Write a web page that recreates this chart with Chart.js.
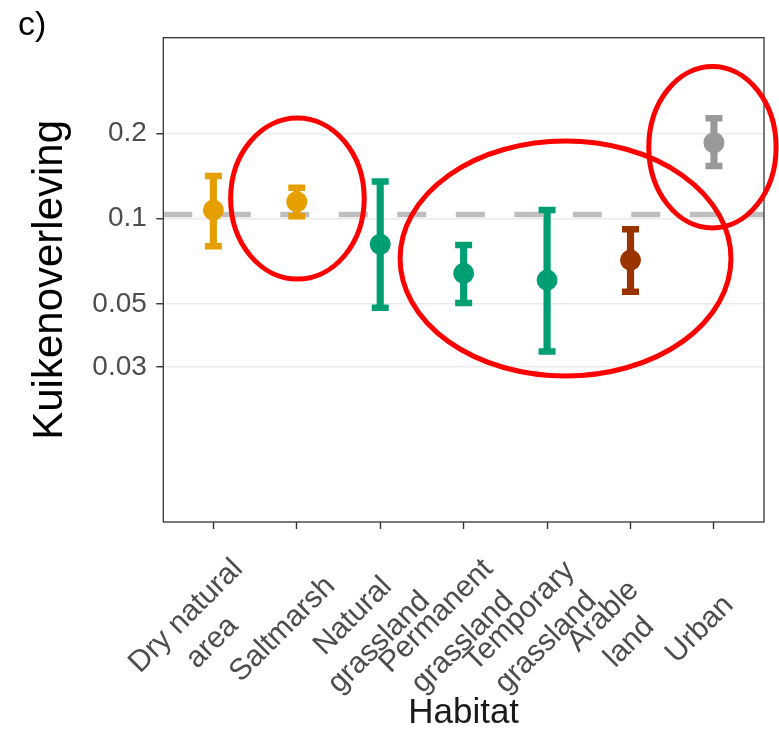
<!DOCTYPE html>
<html>
<head>
<meta charset="utf-8">
<script src="https://cdn.jsdelivr.net/npm/chart.js@4.4.1/dist/chart.umd.min.js"></script>
<style>
html,body{margin:0;padding:0;background:#ffffff;}
#wrap{width:779px;height:734px;}
</style>
</head>
<body>
<div id="wrap"><canvas id="c" width="779" height="734"></canvas></div>
<script>
// ---- data ----
const CATEGORIES = [['Dry natural','area'],['Saltmarsh'],['Natural','grassland'],['Permanent','grassland'],['Temporary','grassland'],['Arable','land'],['Urban']];
const ESTIMATE = [0.1072,0.1147,0.0812,0.0641,0.0607,0.0714,0.1852];
const LOWER    = [0.0799,0.1020,0.0485,0.0504,0.0340,0.0552,0.1533];
const UPPER    = [0.1413,0.1284,0.1352,0.0807,0.1072,0.0917,0.2259];
const COLORS   = ['#E69F00','#E69F00','#009E73','#009E73','#009E73','#993300','#999999'];
const MEAN_SURVIVAL = 0.1035;
const Y_TICKS = [0.03,0.05,0.1,0.2];
const Y_MIN = 0.00851, Y_MAX = 0.4346;
const X_MIN = -0.6, X_MAX = 6.6;
// highlight ellipses, bounding boxes in data space (category index, survival)
const HIGHLIGHTS = [
  {x0:0.207, x1:1.808, y0:0.0612, y1:0.2264},
  {x0:2.238, x1:6.204, y0:0.02785, y1:0.1878},
  {x0:5.219, x1:6.745, y0:0.0927, y1:0.344}
];

const FAMILY = '"Liberation Sans", Arial, Helvetica, sans-serif';
Chart.defaults.font.family = FAMILY;
const IDX = CATEGORIES.map((_, i) => i);

const decor = {
  id: 'decor',
  afterDraw(chart) {
    const {ctx, chartArea: a, scales: {x, y}} = chart;
    ctx.save();
    // panel border
    ctx.strokeStyle = '#333333';
    ctx.lineWidth = 1.3;
    ctx.strokeRect(a.left, a.top, a.right - a.left, a.bottom - a.top);
    // rotated category labels (lines centred)
    ctx.fillStyle = '#4d4d4d';
    ctx.font = '30px ' + FAMILY;
    ctx.textAlign = 'center';
    ctx.textBaseline = 'middle';
    const lh = 37, base = x.top + 7, u = -81, vc = 61;
    CATEGORIES.forEach((lines, i) => {
      const px = x.getPixelForValue(i);
      const v0 = vc - (lines.length - 1) * lh / 2;
      lines.forEach((t, j) => {
        const v = v0 + j * lh;
        const cx = px + Math.SQRT1_2 * (u + v);
        const cy = base + Math.SQRT1_2 * (v - u);
        ctx.save();
        ctx.translate(cx, cy);
        ctx.rotate(-Math.PI / 4);
        ctx.fillText(t, 0, 0);
        ctx.restore();
      });
    });
    // panel tag
    ctx.fillStyle = '#000000';
    ctx.font = '34px ' + FAMILY;
    ctx.textAlign = 'left';
    ctx.textBaseline = 'alphabetic';
    ctx.fillText('c)', 18, 35);
    // red highlight ellipses
    ctx.strokeStyle = '#FF0000';
    ctx.lineWidth = 5;
    HIGHLIGHTS.forEach(h => {
      const l = x.getPixelForValue(h.x0), r = x.getPixelForValue(h.x1);
      const t = y.getPixelForValue(h.y1), b = y.getPixelForValue(h.y0);
      ctx.beginPath();
      ctx.ellipse((l + r) / 2, (t + b) / 2, (r - l) / 2, (b - t) / 2, 0, 0, Math.PI * 2);
      ctx.stroke();
    });
    ctx.restore();
  }
};

new Chart(document.getElementById('c'), {
  type: 'scatter',
  data: {
    datasets: [
      {
        type: 'scatter', label: 'Estimate',
        data: IDX.map(i => ({x: i, y: ESTIMATE[i]})),
        pointBackgroundColor: COLORS, pointBorderWidth: 0, pointRadius: 10.5,
        order: 0
      },
      {
        type: 'scatter', label: 'Upper',
        data: IDX.map(i => ({x: i, y: UPPER[i]})),
        pointStyle: 'line', pointRadius: 8.5, pointBorderColor: COLORS, pointBorderWidth: 6.5,
        order: 1
      },
      {
        type: 'scatter', label: 'Lower',
        data: IDX.map(i => ({x: i, y: LOWER[i]})),
        pointStyle: 'line', pointRadius: 8.5, pointBorderColor: COLORS, pointBorderWidth: 6.5,
        order: 1
      },
      {
        type: 'bar', label: 'CI',
        data: IDX.map(i => ({x: i, y: [LOWER[i], UPPER[i]]})),
        backgroundColor: COLORS, borderWidth: 0, barThickness: 6.5,
        order: 2
      },
      {
        type: 'line', label: 'Mean',
        data: [{x: X_MIN, y: MEAN_SURVIVAL}, {x: X_MAX, y: MEAN_SURVIVAL}],
        borderColor: '#BEBEBE', borderWidth: 5.5, borderDash: [29, 29.5],
        pointRadius: 0, fill: false,
        order: 3
      }
    ]
  },
  options: {
    responsive: false,
    animation: false,
    events: [],
    devicePixelRatio: 1,
    layout: {padding: {left: 0, top: 37.7, right: 13, bottom: 0}},
    plugins: {legend: {display: false}, tooltip: {enabled: false}},
    scales: {
      x: {
        type: 'linear', min: X_MIN, max: X_MAX, offset: false,
        afterBuildTicks: s => { s.ticks = IDX.map(v => ({value: v})); },
        afterFit: s => { s.height = 212; },
        grid: {display: true, drawOnChartArea: false, drawTicks: true, tickLength: 7,
               tickColor: '#333333', tickWidth: 1.4, offset: false},
        border: {display: false},
        ticks: {display: false},
        title: {display: true, text: 'Habitat', color: '#1a1a1a',
                font: {size: 35, family: FAMILY}, padding: {top: 0, bottom: 0}}
      },
      y: {
        type: 'logarithmic', min: Y_MIN, max: Y_MAX,
        afterBuildTicks: s => { s.ticks = Y_TICKS.map(v => ({value: v})); },
        afterFit: s => { s.width = 163.3; },
        grid: {color: '#EBEBEB', lineWidth: 1.5, drawTicks: true, tickLength: 7,
               tickColor: '#333333', tickWidth: 1.4},
        border: {display: false},
        ticks: {color: '#4d4d4d', font: {size: 28, family: FAMILY}, padding: 9.5,
                callback: v => String(v)},
        title: {display: true, text: 'Kuikenoverleving', color: '#000000',
                font: {size: 42, family: FAMILY}, padding: {top: 25, bottom: 0}}
      }
    }
  },
  plugins: [decor]
});
</script>
</body>
</html>
